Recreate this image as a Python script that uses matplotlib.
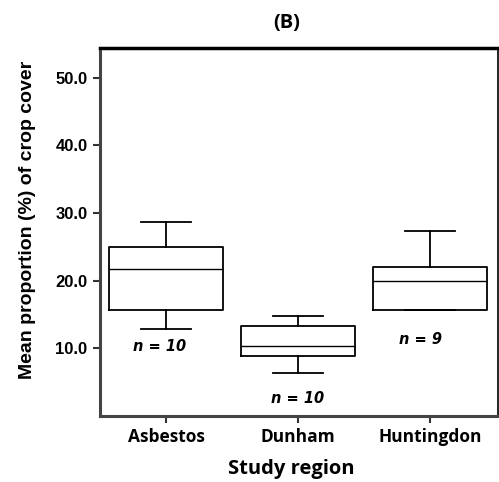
import numpy as np
import matplotlib
matplotlib.use('Agg')
import matplotlib.pyplot as plt

regions = ['Asbestos', 'Dunham', 'Huntingdon']
whis_low = [12.9, 6.4, 15.6]
q1 = [15.6, 8.9, 15.6]
med = [21.8, 10.3, 19.9]
q3 = [25.0, 13.3, 22.0]
whis_high = [28.7, 14.8, 27.3]
n_labels = ['n = 10', 'n = 10', 'n = 9']
n_y = [10.3, 2.6, 11.3]
n_x = [0.95, 2.0, 2.93]

fig = plt.figure(figsize=(4.99, 4.82), dpi=100)
ax = fig.add_axes([0.2004, 0.137, 0.7976, 0.7634])

stats = []
for i in range(len(regions)):
    stats.append({'whislo': whis_low[i], 'q1': q1[i], 'med': med[i],
                  'q3': q3[i], 'whishi': whis_high[i], 'label': regions[i]})

lp = dict(color='black', linewidth=1.3)
ax.bxp(stats, positions=[1, 2, 3], widths=0.86, showfliers=False,
       boxprops=lp, whiskerprops=lp, capprops=lp,
       medianprops=dict(color='black', linewidth=1.0), capwidths=0.38)

for i in range(len(regions)):
    ax.text(n_x[i], n_y[i], n_labels[i], ha='center', va='center',
            fontsize=10.5, fontweight='bold', fontstyle='italic', family='DejaVu Sans')

ax.set_xlim(0.5, 3.515)
ax.set_ylim(0, 54.4)
ax.set_yticks([10, 20, 30, 40, 50])
ax.set_yticklabels(['10.0', '20.0', '30.0', '40.0', '50.0'],
                   fontsize=12, fontweight='bold', family='Liberation Sans')
ax.set_xticks([1, 2, 3])
ax.set_xticklabels(regions, fontsize=12.5, fontweight='bold', family='Open Sans')
ax.tick_params(axis='both', direction='out', length=5, width=1.5, color='#333333')
ax.tick_params(axis='y', pad=4)
ax.tick_params(axis='x', pad=4)

ax.spines['left'].set_color('#444444')
ax.spines['left'].set_linewidth(2.2)
ax.spines['bottom'].set_color('#444444')
ax.spines['bottom'].set_linewidth(2.2)
ax.spines['top'].set_linewidth(2.5)
ax.spines['right'].set_linewidth(1.2)

ax.set_ylabel('Mean proportion (%) of crop cover', fontsize=14,
              fontweight='bold', family='Liberation Sans')
ax.yaxis.set_label_coords(-0.16, 0.533)
ax.set_xlabel('Study region', fontsize=14.5, fontweight='bold', family='Open Sans')
ax.xaxis.set_label_coords(0.48, -0.118)
fig.text(0.575, 0.952, '(B)', ha='center', va='center', fontsize=14.5,
         fontweight='bold', family='Open Sans')

plt.savefig('out.png', dpi=100)
